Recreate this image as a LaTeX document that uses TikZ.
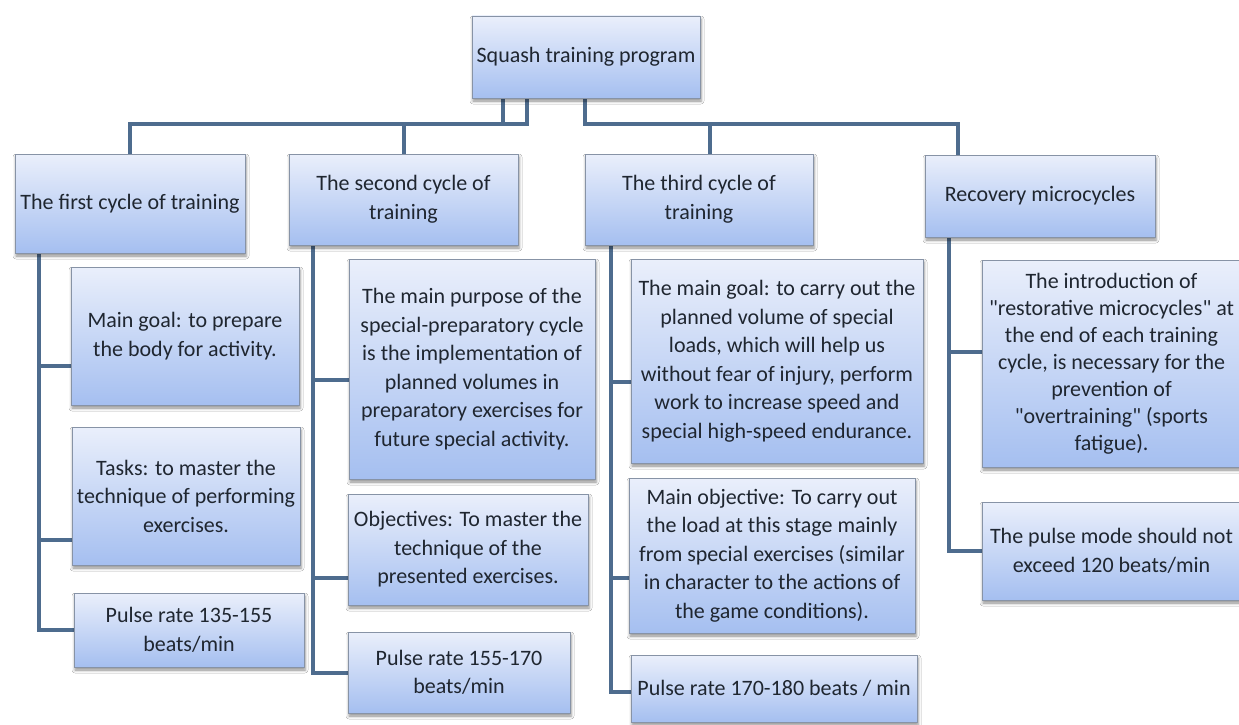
\documentclass[tikz,border=0pt]{standalone}
\usepackage{fontspec}
\setmainfont{Carlito}[Ligatures=TeXOff]
\usetikzlibrary{shadows.blur}
\definecolor{boxtop}{HTML}{EAEFFB}
\definecolor{boxbot}{HTML}{A5BFF0}
\definecolor{boxline}{HTML}{8793A6}
\definecolor{connc}{HTML}{4E6C8E}
\definecolor{txt}{HTML}{1F2630}
\pgfdeclarelayer{bg}
\pgfsetlayers{bg,main}
\begin{document}
\begin{tikzpicture}[x=1pt,y=-1pt,
  box/.style={draw=boxline, line width=0.8pt, top color=boxtop, bottom color=boxbot,
    inner sep=0pt, align=center, text=txt, font=\fontsize{22}{28.5}\selectfont,
    blur shadow={shadow xshift=1pt, shadow yshift=-3pt, shadow blur radius=3pt, shadow opacity=45}},
  conn/.style={draw=connc, line width=4pt, line join=miter}]
\useasboundingbox (0,0) rectangle (1239,725);

% level 0
\node[box, minimum width=228pt, minimum height=82pt] (root) at (586,57) {Squash training program};
% level 1
\node[box, minimum width=230pt, minimum height=99pt] (A) at (130,203.5) {The first cycle of training};
\node[box, minimum width=229pt, minimum height=91pt] (B) at (403.5,199.5) {The second cycle of\\training};
\node[box, minimum width=228pt, minimum height=91pt] (C) at (699,199.5) {The third cycle of\\training};
\node[box, minimum width=230pt, minimum height=82pt] (D) at (1040,196) {Recovery microcycles};
% column A
\node[box, minimum width=228pt, minimum height=138pt] (A1) at (185,336) {Main goal: to prepare\\the body for activity.};
\node[box, minimum width=228pt, minimum height=138pt] (A2) at (186,496) {Tasks: to master the\\technique of performing\\exercises.};
\node[box, minimum width=230pt, minimum height=74pt] (A3) at (189,630) {Pulse rate 135-155\\beats/min};
% column B
\node[box, minimum width=246pt, minimum height=220pt] (B1) at (472,369) {The main purpose of the\\special-preparatory cycle\\is the implementation of\\planned volumes in\\preparatory exercises for\\future special activity.};
\node[box, minimum width=240pt, minimum height=111pt] (B2) at (468,549.5) {Objectives: To master the\\technique of the\\presented exercises.};
\node[box, minimum width=222pt, minimum height=81pt] (B3) at (459,672.5) {Pulse rate 155-170\\beats/min};
% column C
\node[box, minimum width=292pt, minimum height=204pt] (C1) at (777,361) {The main goal: to carry out the\\planned volume of special\\loads, which will help us\\without fear of injury, perform\\work to increase speed and\\special high-speed endurance.};
\node[box, minimum width=286pt, minimum height=155pt] (C2) at (772,555.5) {Main objective: To carry out\\the load at this stage mainly\\from special exercises (similar\\in character to the actions of\\the game conditions).};
\node[box, minimum width=286pt, minimum height=67pt] (C3) at (774,688.5) {Pulse rate 170-180 beats / min};
% column D
\node[box, minimum width=259pt, minimum height=207pt, font=\fontsize{22}{27}\selectfont] (D1) at (1111.5,363.5) {The introduction of\\"restorative microcycles" at\\the end of each training\\cycle, is necessary for the\\prevention of\\"overtraining" (sports\\fatigue).};
\node[box, minimum width=259pt, minimum height=98pt] (D2) at (1111.5,551) {The pulse mode should not\\exceed 120 beats/min};

\coordinate (u1) at (503,124);
\coordinate (u2) at (527,124);
\coordinate (u3) at (585,124);
\coordinate (aL) at (39,0);
\coordinate (bL) at (313,0);
\coordinate (cL) at (611,0);
\coordinate (dL) at (949,0);

\begin{pgfonlayer}{bg}
\fill[white] (0,0) rectangle (1239,725);
% root to level 1
\draw[conn] (root.south -| u1) -- (u1) -| (A.north);
\draw[conn] (root.south -| u2) -- (u2) -| (B.north);
\draw[conn] (root.south -| u3) -- (u3) -| ([xshift=11pt]C.north);
\draw[conn] (root.south -| u3) -- (u3) -| ([xshift=-82pt]D.north);
% column A
\draw[conn] (A.south -| aL) |- ([yshift=-30pt]A1.west);
\draw[conn] (A.south -| aL) |- ([yshift=-44pt]A2.west);
\draw[conn] (A.south -| aL) |- (A3.west);
% column B
\draw[conn] (B.south -| bL) |- ([yshift=-11pt]B1.west);
\draw[conn] (B.south -| bL) |- ([yshift=-28.5pt]B2.west);
\draw[conn] (B.south -| bL) |- (B3.west);
% column C
\draw[conn] (C.south -| cL) |- ([yshift=-21pt]C1.west);
\draw[conn] (C.south -| cL) |- ([yshift=-22.5pt]C2.west);
\draw[conn] (C.south -| cL) |- ([yshift=-3.5pt]C3.west);
% column D
\draw[conn] (D.south -| dL) |- ([yshift=11.5pt]D1.west);
\draw[conn] (D.south -| dL) |- (D2.west);
\end{pgfonlayer}
\end{tikzpicture}
\end{document}
